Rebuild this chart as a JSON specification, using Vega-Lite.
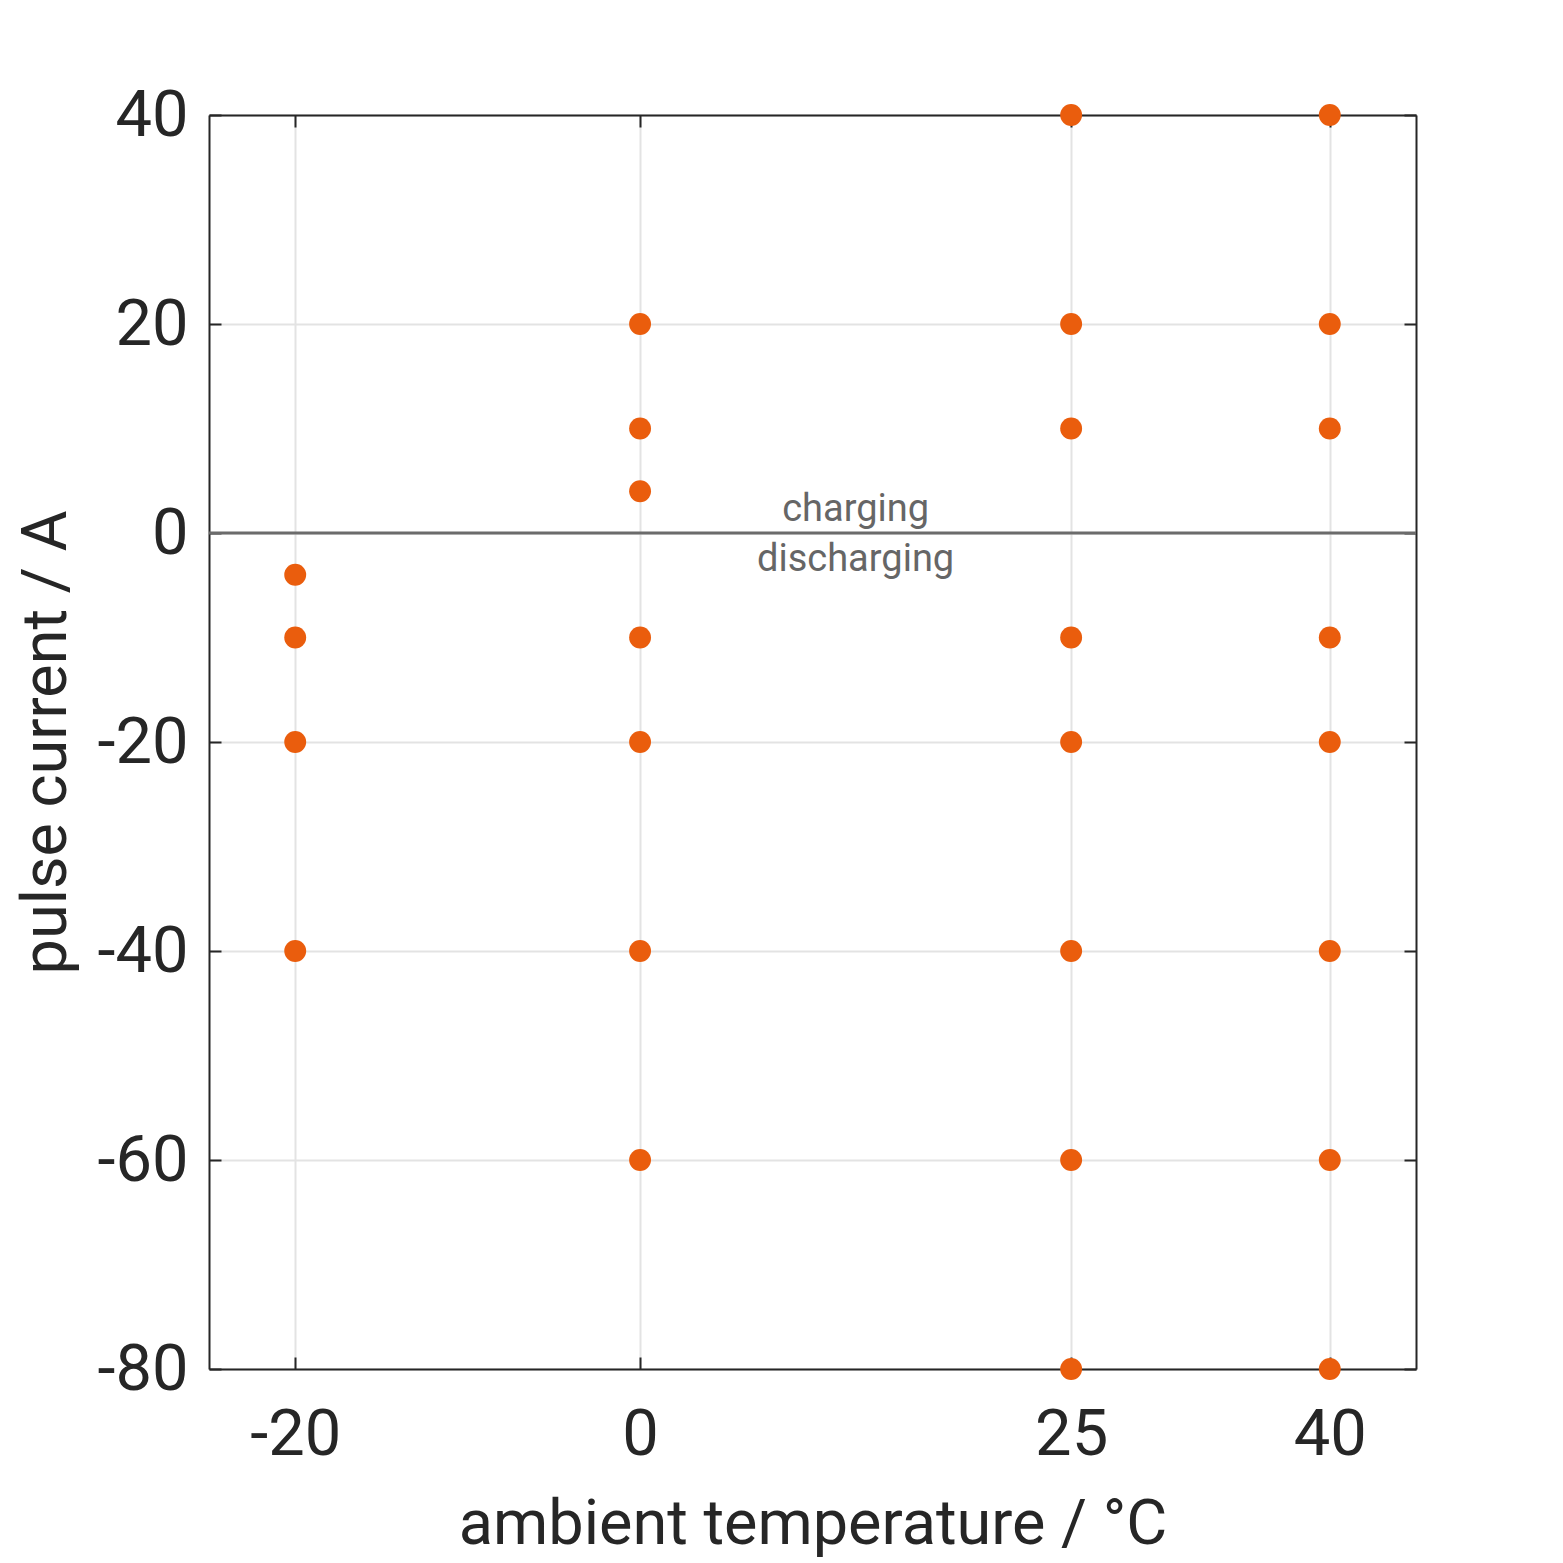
{
  "$schema": "https://vega.github.io/schema/vega-lite/v6.json",
  "width": 1207,
  "height": 1254,
  "autosize": "none",
  "padding": {"left": 209, "top": 115, "right": 147, "bottom": 194},
  "background": "white",
  "config": {
    "view": {"stroke": null},
    "font": "Roboto",
    "axis": {
      "zindex": 0,
      "domainColor": "#262626",
      "domainWidth": 2,
      "tickColor": "#262626",
      "tickWidth": 2,
      "tickSize": -12,
      "gridColor": "#e3e3e3",
      "gridWidth": 2,
      "labelColor": "#262626",
      "labelFontSize": 65,
      "labelExpr": "datum.value",
      "titleColor": "#262626",
      "titleFontSize": 63,
      "titleFontWeight": "normal"
    }
  },
  "datasets": {
    "points": [
      {"temperature": -20, "current": -4},
      {"temperature": -20, "current": -10},
      {"temperature": -20, "current": -20},
      {"temperature": -20, "current": -40},
      {"temperature": 0, "current": 20},
      {"temperature": 0, "current": 10},
      {"temperature": 0, "current": 4},
      {"temperature": 0, "current": -10},
      {"temperature": 0, "current": -20},
      {"temperature": 0, "current": -40},
      {"temperature": 0, "current": -60},
      {"temperature": 25, "current": 40},
      {"temperature": 25, "current": 20},
      {"temperature": 25, "current": 10},
      {"temperature": 25, "current": -10},
      {"temperature": 25, "current": -20},
      {"temperature": 25, "current": -40},
      {"temperature": 25, "current": -60},
      {"temperature": 25, "current": -80},
      {"temperature": 40, "current": 40},
      {"temperature": 40, "current": 20},
      {"temperature": 40, "current": 10},
      {"temperature": 40, "current": -10},
      {"temperature": 40, "current": -20},
      {"temperature": 40, "current": -40},
      {"temperature": 40, "current": -60},
      {"temperature": 40, "current": -80}
    ]
  },
  "resolve": {"axis": {"x": "independent", "y": "independent"}},
  "layer": [
    {
      "data": {"name": "points"},
      "mark": {"type": "point", "opacity": 0},
      "encoding": {
        "x": {
          "field": "temperature",
          "type": "quantitative",
          "scale": {"domain": [-25, 45], "nice": false, "zero": false},
          "axis": {"orient": "top", "values": [-20, 0, 25, 40], "labels": false, "grid": false, "title": null}
        },
        "y": {
          "field": "current",
          "type": "quantitative",
          "scale": {"domain": [-80, 40], "nice": false, "zero": false},
          "axis": {"orient": "right", "values": [-80, -60, -40, -20, 0, 20, 40], "labels": false, "grid": false, "title": null}
        }
      }
    },
    {
      "data": {"values": [{"current": 0}]},
      "mark": {"type": "rule", "color": "#6b6b6b", "strokeWidth": 3},
      "encoding": {
        "y": {"field": "current", "type": "quantitative", "axis": null}
      }
    },
    {
      "data": {"name": "points"},
      "mark": {"type": "circle", "color": "#ea5d0d", "opacity": 1, "size": 480},
      "encoding": {
        "x": {
          "field": "temperature",
          "type": "quantitative",
          "axis": {
            "orient": "bottom",
            "values": [-20, 0, 25, 40],
            "grid": true,
            "labelPadding": 46,
            "title": "ambient temperature / °C",
            "titleY": 174,
            "titleBaseline": "alphabetic"
          }
        },
        "y": {
          "field": "current",
          "type": "quantitative",
          "axis": {
            "orient": "left",
            "values": [-80, -60, -40, -20, 0, 20, 40],
            "grid": true,
            "labelPadding": 33,
            "title": "pulse current / A",
            "titleX": -144,
            "titleBaseline": "alphabetic"
          }
        }
      }
    },
    {
      "data": {"values": [{"label": "charging", "temperature": 12.5, "current": 0}]},
      "mark": {"type": "text", "color": "#666666", "fontSize": 38, "baseline": "alphabetic", "align": "center", "dy": -12},
      "encoding": {
        "text": {"field": "label"},
        "x": {"field": "temperature", "type": "quantitative", "axis": null},
        "y": {"field": "current", "type": "quantitative", "axis": null}
      }
    },
    {
      "data": {"values": [{"label": "discharging", "temperature": 12.5, "current": 0}]},
      "mark": {"type": "text", "color": "#666666", "fontSize": 38, "baseline": "alphabetic", "align": "center", "dy": 38},
      "encoding": {
        "text": {"field": "label"},
        "x": {"field": "temperature", "type": "quantitative", "axis": null},
        "y": {"field": "current", "type": "quantitative", "axis": null}
      }
    }
  ]
}
